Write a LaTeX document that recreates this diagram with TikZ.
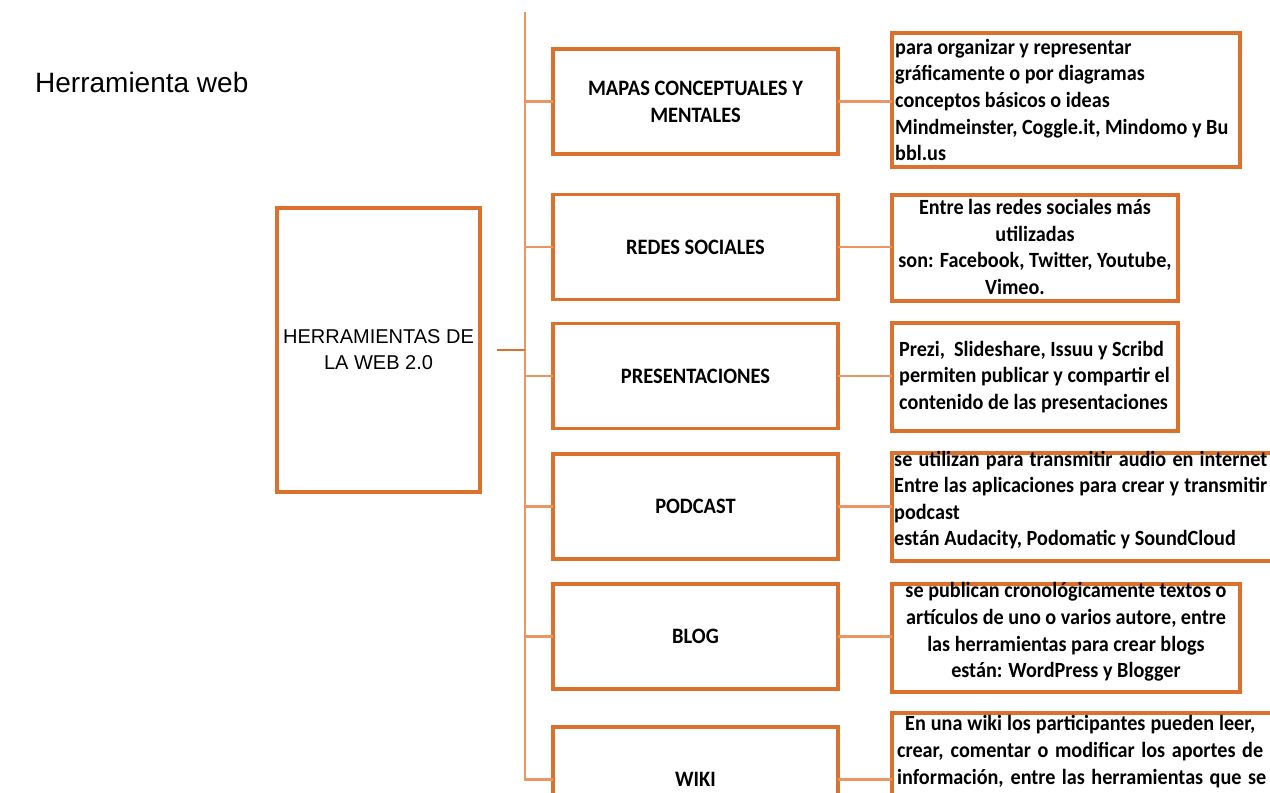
\documentclass[tikz,border=0pt]{standalone}
\usepackage{fontspec}
\newfontfamily\arialf{Liberation Sans}
\newfontfamily\calf{Carlito}[FakeStretch=0.93]
\definecolor{boxor}{RGB}{220,112,45}
\definecolor{lineor}{RGB}{234,150,98}
\begin{document}
\begin{tikzpicture}[x=1pt,y=-1pt,
  mainbox/.style={draw=boxor,line width=3.6pt,rectangle,inner sep=0pt,outer sep=0pt,align=center,
    font=\arialf\fontsize{20}{26}\selectfont},
  midbox/.style={draw=boxor,line width=3.6pt,rectangle,inner sep=0pt,outer sep=0pt,
    minimum width=285pt,minimum height=105pt,align=center,
    font=\calf\bfseries\fontsize{22}{27}\selectfont},
  descbox/.style={draw=boxor,line width=3.6pt,rectangle,inner sep=0pt,outer sep=0pt},
  desctext/.style={inner sep=0pt,font=\calf\bfseries\fontsize{21.7}{26.6}\selectfont},
  conn/.style={draw=lineor,line width=2.2pt},
  stub/.style={draw=boxor,line width=2.8pt}]
\useasboundingbox (0,0) rectangle (1270,793);
\clip (0,0) rectangle (1270,793);
\fill[white] (0,0) rectangle (1270,793);

\node[anchor=west,inner sep=0pt,font=\arialf\fontsize{28}{32}\selectfont] (title) at (35,82) {Herramienta web};

\node[mainbox,minimum width=203pt,minimum height=284pt] (root) at (378.5,350) {HERRAMIENTAS DE\\LA WEB 2.0};

\node[midbox] (m1) at (695.5,101.5) {MAPAS CONCEPTUALES Y\\MENTALES};
\node[midbox] (m2) at (695.5,247) {REDES SOCIALES};
\node[midbox] (m3) at (695.5,376) {PRESENTACIONES};
\node[midbox] (m4) at (695.5,506.5) {PODCAST};
\node[midbox] (m5) at (695.5,636.5) {BLOG};
\node[midbox] (m6) at (695.5,779.5) {WIKI};

\node[descbox,minimum width=348pt,minimum height=134pt] (d1) at (1066,100) {};
\node[descbox,minimum width=286pt,minimum height=106pt] (d2) at (1035,248) {};
\node[descbox,minimum width=286pt,minimum height=108pt] (d3) at (1035,377) {};
\node[descbox,minimum width=408pt,minimum height=108pt] (d4) at (1096,507) {};
\node[descbox,minimum width=348pt,minimum height=108pt] (d5) at (1066,638) {};
\node[descbox,minimum width=408pt,minimum height=117pt] (d6) at (1096,771.5) {};

\node[desctext,anchor=west,align=left] (t1) at ([xshift=3pt]d1.west) {para organizar y representar\\gráficamente o por diagramas\\conceptos básicos o ideas\\Mindmeinster, Coggle.it, Mindomo y Bu\\bbl.us};
\node[desctext,align=center] (t2) at (1035,247) {Entre las redes sociales más\\utilizadas\\son: Facebook, Twitter, Youtube,\\Vimeo.\hspace*{40pt}};
\node[desctext,anchor=west,align=left] (t3) at ([xshift=7pt]d3.west) {Prezi,\ \ Slideshare, Issuu y Scribd\\permiten publicar y compartir el\\contenido de las presentaciones};
\node[desctext,anchor=west,align=left] (t4) at (894,500) {\makebox[373pt][s]{se utilizan para transmitir audio en internet}\\\makebox[373pt][s]{Entre las aplicaciones para crear y transmitir}\\podcast\\están Audacity, Podomatic y SoundCloud};
\node[desctext,align=center] (t5) at (1066,632) {se publican cronológicamente textos o\\artículos de uno o varios autore, entre\\las herramientas para crear blogs\\están: WordPress y Blogger};
\node[desctext,anchor=west,align=left] (t6) at (897,751.5) {\hspace*{8pt}\makebox[350pt][s]{En una wiki los participantes pueden leer,}\\\makebox[366pt][s]{crear, comentar o modificar los aportes de}\\\makebox[369pt][s]{información, entre las herramientas que se}};

\coordinate (top) at (525,12);
\coordinate (stubstart) at (497,350);
\draw[conn] (top) |- (m6.west);
\foreach \m in {m1,m2,m3,m4,m5} {\draw[conn] (\m.west -| top) -- (\m.west);}
\draw[stub] (stubstart) -- (stubstart -| top);
\foreach \i in {1,...,6} {\draw[conn] (m\i.east) -- (m\i.east -| d\i.west);}
\end{tikzpicture}
\end{document}
